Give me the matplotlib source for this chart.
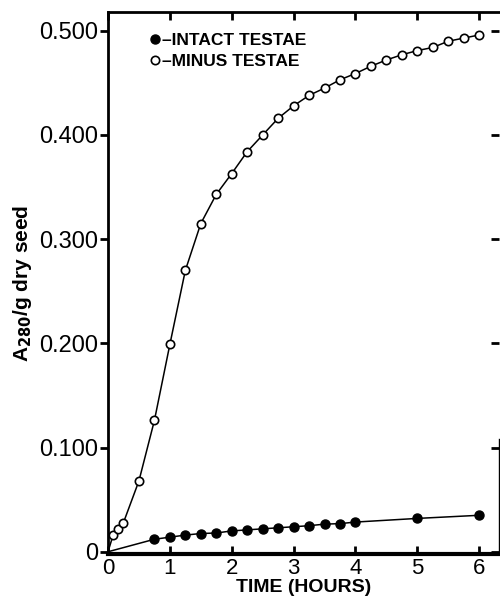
import matplotlib.pyplot as plt
from matplotlib.lines import Line2D

# Minus testae (open circles), hours vs A280/g dry seed
minus_hours = [0, 0.083, 0.167, 0.25, 0.5, 0.75, 1.0, 1.25, 1.5, 1.75, 2.0, 2.25,
               2.5, 2.75, 3.0, 3.25, 3.5, 3.75, 4.0, 4.25, 4.5, 4.75, 5.0, 5.25,
               5.5, 5.75, 6.0]
minus_a280 = [0, 0.016, 0.022, 0.028, 0.068, 0.126, 0.199, 0.270, 0.315, 0.343,
              0.363, 0.384, 0.400, 0.416, 0.428, 0.438, 0.445, 0.453, 0.459,
              0.466, 0.472, 0.477, 0.481, 0.484, 0.490, 0.493, 0.496]

# Intact testae (filled circles)
intact_hours = [0, 0.75, 1.0, 1.25, 1.5, 1.75, 2.0, 2.25, 2.5, 2.75, 3.0, 3.25,
                3.5, 3.75, 4.0, 5.0, 6.0]
intact_a280 = [0, 0.012, 0.014, 0.016, 0.0175, 0.018, 0.020, 0.021, 0.022, 0.023,
               0.024, 0.025, 0.0265, 0.027, 0.0285, 0.032, 0.035]

xticks = [0, 1, 2, 3, 4, 5, 6]
yticks = [0, 0.1, 0.2, 0.3, 0.4, 0.5]
ytick_labels = ['0', '0.100', '0.200', '0.300', '0.400', '0.500']

plt.rcParams['font.family'] = ['Liberation Sans', 'DejaVu Sans']

fig = plt.figure(figsize=(5, 6.02), dpi=100)
ax = fig.add_axes([0.216, 0.080, 0.782, 0.900])

ax.plot(minus_hours, minus_a280, color='black', lw=1.1, marker='o', ms=6,
        mfc='white', mec='black', mew=1.2, markevery=list(range(1, len(minus_hours))))
ax.plot(intact_hours, intact_a280, color='black', lw=1.1, marker='o', ms=6.5,
        mfc='black', mec='black', markevery=list(range(1, len(intact_hours))))

ax.set_xlim(0, 6.32)
ax.set_ylim(-0.002, 0.518)
ax.set_xticks(xticks)
ax.set_xticklabels([str(t) for t in xticks])
ax.set_yticks(yticks)
ax.set_yticklabels(ytick_labels)

ax.tick_params(axis='y', labelsize=17, width=2, length=6)
ax.tick_params(axis='x', labelsize=16, width=2, length=6)
ax.tick_params(axis='y', direction='out', left=True, right=False, pad=1)
ax.tick_params(axis='x', direction='in', top=True, bottom=True, pad=3)

# right side: inward ticks without labels
sec = ax.secondary_yaxis('right')
sec.set_yticks(yticks)
sec.tick_params(direction='in', width=2, length=6, labelright=False)
sec.spines['right'].set_linewidth(1)
sec.spines['right'].set_bounds(-0.002, 0.108)
ax.spines['right'].set_visible(False)

for side in ['left', 'top']:
    ax.spines[side].set_linewidth(2)
ax.spines['bottom'].set_linewidth(3)

ax.set_xlabel('TIME (HOURS)', fontsize=14, fontweight='bold', labelpad=0)
ax.set_ylabel('A$_{\\mathbf{280}}$/g dry seed', fontsize=15, fontweight='bold', labelpad=4)

handles = [Line2D([], [], ls='none', marker='o', ms=6.5, mfc='black', mec='black'),
           Line2D([], [], ls='none', marker='o', ms=6, mfc='white', mec='black', mew=1.2)]
leg = ax.legend(handles, ['\u2013INTACT TESTAE', '\u2013MINUS TESTAE'], loc='upper left',
                bbox_to_anchor=(0.09, 0.975), frameon=False, handlelength=0.6,
                handletextpad=0.1, labelspacing=0.35, borderaxespad=0,
                prop={'size': 12.5, 'weight': 'bold'})

fig.savefig('out.png', dpi=100)
